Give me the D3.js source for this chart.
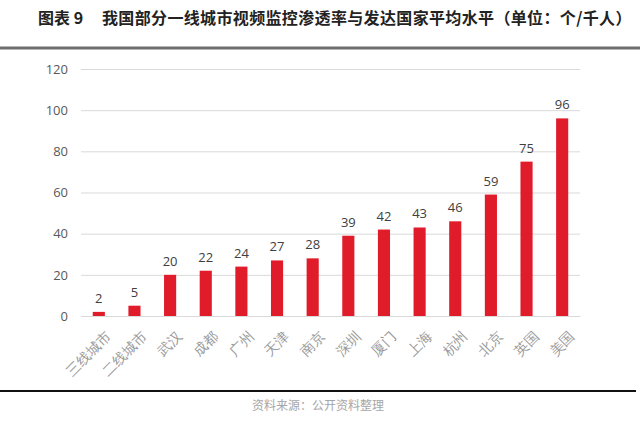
<!DOCTYPE html>
<html>
<head>
<meta charset="utf-8">
<script src="https://cdn.jsdelivr.net/npm/d3@7"></script>
<style>
  body { margin: 0; background: #fff; }
  svg { display: block; }
</style>
</head>
<body>
<div id="chart"></div>
<script>
  // data
  var cities = ["三线城市", "二线城市", "武汉", "成都", "广州", "天津", "南京", "深圳", "厦门", "上海", "杭州", "北京", "英国", "美国"];
  var values = [2, 5, 20, 22, 24, 27, 28, 39, 42, 43, 46, 59, 75, 96];
  var yTicks = [0, 20, 40, 60, 80, 100, 120];

  var W = 640, H = 422;
  var margin = {top: 69, right: 60, bottom: 106, left: 81},
      width = W - margin.left - margin.right,
      height = H - margin.top - margin.bottom;

  var svg = d3.select("#chart")
    .append("svg")
      .attr("width", W)
      .attr("height", H)
      .style("font-family", "'Noto Sans CJK SC', 'Noto Sans', sans-serif");

  // title
  svg.append("text")
    .attr("x", 38).attr("y", 24)
    .style("font-size", "16px").style("font-weight", "bold").attr("fill", "#222")
    .text("图表 9");
  svg.append("text")
    .attr("x", 102).attr("y", 24)
    .style("font-size", "16px").style("font-weight", "bold").attr("fill", "#222")
    .style("letter-spacing", "0.35px")
    .text("我国部分一线城市视频监控渗透率与发达国家平均水平（单位：个/千人）");

  svg.append("line")
    .attr("x1", 0).attr("x2", W).attr("y1", 48).attr("y2", 48)
    .attr("stroke", "#6e6e6e").attr("stroke-width", 3);

  var g = svg.append("g")
    .attr("transform", "translate(" + margin.left + "," + margin.top + ")");

  var x = d3.scaleBand()
    .domain(cities)
    .range([0, width])
    .paddingInner(0.66)
    .paddingOuter(0.33);

  var y = d3.scaleLinear()
    .domain([0, 120])
    .range([height, 0]);

  // gridlines
  g.append("g")
    .call(d3.axisLeft(y).tickValues(yTicks).tickSize(-width).tickFormat(""))
    .call(function(s) {
      s.select(".domain").remove();
      s.selectAll("line").attr("stroke", "#d9d9d9");
    });

  // y labels
  g.append("g")
    .call(d3.axisLeft(y).tickValues(yTicks).tickSize(0).tickPadding(13))
    .call(function(s) {
      s.select(".domain").remove();
      s.selectAll("text").attr("fill", "#595959")
        .style("font-size", "13px")
        .style("font-family", "'Open Sans', 'Noto Sans', sans-serif");
    });

  // bars
  g.selectAll("rect.bar")
    .data(values)
    .enter().append("rect")
      .attr("class", "bar")
      .attr("x", function(d, i) { return x(cities[i]); })
      .attr("y", function(d) { return y(d); })
      .attr("width", x.bandwidth())
      .attr("height", function(d) { return height - y(d); })
      .attr("fill", "#e01b2a");

  // value labels
  g.selectAll("text.val")
    .data(values)
    .enter().append("text")
      .attr("class", "val")
      .attr("x", function(d, i) { return x(cities[i]) + x.bandwidth() / 2; })
      .attr("y", function(d) { return y(d) - 9; })
      .attr("text-anchor", "middle")
      .attr("fill", "#404040")
      .style("font-size", "13px")
      .style("font-family", "'Open Sans', 'Noto Sans', sans-serif")
      .text(function(d) { return d; });

  // x axis
  g.append("g")
    .attr("transform", "translate(0," + height + ")")
    .call(d3.axisBottom(x).tickSize(0).tickPadding(8))
    .call(function(s) {
      s.select(".domain").attr("stroke", "#d9d9d9");
      s.selectAll("text")
        .attr("fill", "#999999")
        .style("font-size", "14px")
        .attr("text-anchor", "end")
        .attr("dy", "0.35em")
        .attr("transform", "translate(4,12) rotate(-45)");
    });

  // bottom rule + source
  svg.append("line")
    .attr("x1", 0).attr("x2", 636).attr("y1", 391).attr("y2", 391)
    .attr("stroke", "#111").attr("stroke-width", 2);
  svg.append("text")
    .attr("x", 318).attr("y", 410)
    .attr("text-anchor", "middle")
    .attr("fill", "#a6a6a6")
    .style("font-size", "12px")
    .text("资料来源：公开资料整理");
</script>
</body>
</html>
